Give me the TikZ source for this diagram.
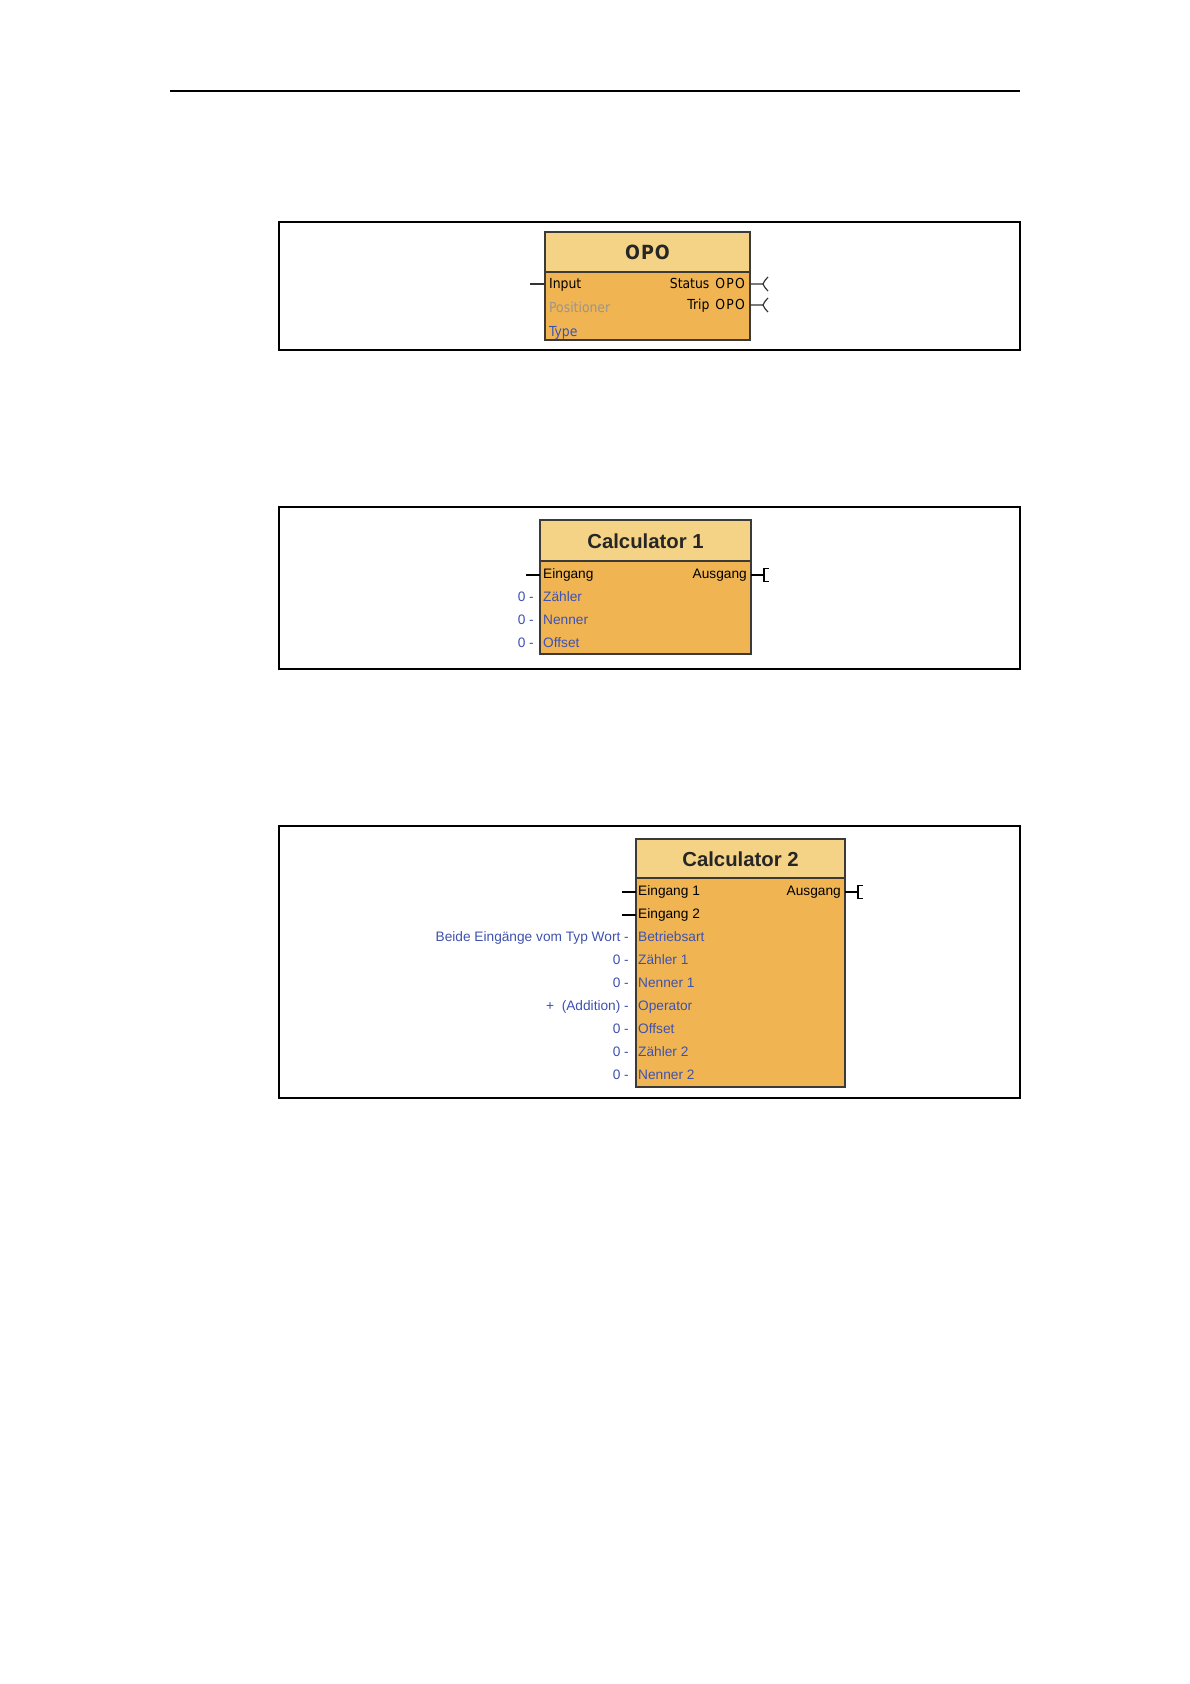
\documentclass[tikz,border=0pt]{standalone}
\usepackage{fontspec}
\setmainfont{Liberation Sans}
\newfontfamily\opofont{DejaVu Sans Condensed}
\usetikzlibrary{positioning}
\definecolor{hdr}{HTML}{F4D386}
\definecolor{bdy}{HTML}{F0B552}
\definecolor{edge}{HTML}{3C3A36}
\definecolor{lblue}{HTML}{3E52B0}
\definecolor{lgray}{HTML}{9A958C}
\newcommand{\opoword}{O\kern1.2pt P\kern1.2pt O}
\tikzset{
  frame/.style={draw=black, line width=1.3pt},
  hbox/.style={draw=edge, line width=1.2pt, fill=hdr, inner sep=0pt},
  bbox/.style={draw=edge, line width=1.2pt, fill=bdy, inner sep=0pt},
  ttl/.style={font=\fontsize{20.3}{23}\selectfont\bfseries, text=black!85},
  opottl/.style={font=\opofont\fontsize{19.5}{22}\selectfont\bfseries, text=black!85},
  row/.style={font=\fontsize{13.7}{16}\selectfont, inner sep=0pt, anchor=base west},
  rrow/.style={font=\fontsize{13.7}{16}\selectfont, inner sep=0pt, anchor=base east},
  oporow/.style={font=\opofont\fontsize{13.8}{16}\selectfont, inner sep=0pt, anchor=base west},
  oporrow/.style={font=\opofont\fontsize{13.8}{16}\selectfont, inner sep=0pt, anchor=base east},
  stub/.style={draw=black, line width=1.8pt},
  pin/.style={draw=black!80, line width=1.2pt},
}
\begin{document}
\begin{tikzpicture}[x=1pt,y=-1pt]
\useasboundingbox[fill=white] (0,0) rectangle (1190,1684);
% top rule
\draw[line width=2.2pt] (170,91) -- (1020,91);

% ---------- frame 1: OPO ----------
\draw[frame] (279,222) rectangle (1020,350);
\node[hbox, minimum width=205pt, minimum height=40pt] (opoh) at (647.5,252) {};
\node[bbox, minimum width=205pt, minimum height=68pt] (opob) at (647.5,306) {};
\node[opottl] (opot) at (opoh.center) {O\kern1pt P\kern1pt O};
\node[oporow] (opoin) at (549,288) {Input};
\node[oporow, text=lgray] (opopos) at (549,312) {Positioner};
\node[oporow, text=lblue] (opotyp) at (549,336) {Type};
\node[oporrow] (opost) at (745,288) {Status\kern2pt\ \opoword};
\node[oporrow] (opotr) at (745,309) {Trip\kern2pt\ \opoword};
\coordinate (opoinL) at (530,284);
\coordinate (opoinR) at (545,284);
\draw[pin] (opoinL) -- (opoinR);
\coordinate (opoo1) at (750,284);
\coordinate (opoo1e) at (763,284);
\coordinate (opoo2) at (750,305);
\coordinate (opoo2e) at (763,305);
\draw[pin] (opoo1) -- (opoo1e) .. controls (765,280) and (766,279) .. (768,277);
\draw[pin] (opoo1e) .. controls (765,288) and (766,289) .. (768,291);
\draw[pin] (opoo2) -- (opoo2e) .. controls (765,301) and (766,300) .. (768,298);
\draw[pin] (opoo2e) .. controls (765,309) and (766,310) .. (768,312);

% ---------- frame 2: Calculator 1 ----------
\draw[frame] (279,507) rectangle (1020,669);
\node[hbox, minimum width=211pt, minimum height=41pt] (c1h) at (645.5,540.5) {};
\node[bbox, minimum width=211pt, minimum height=93pt] (c1b) at (645.5,607.5) {};
\node[ttl] (c1t) at (645.5,541) {Calculator 1};
\node[row] (c1e) at (543,578.5) {Eingang};
\node[row, text=lblue] (c1z) at (543,601) {Zähler};
\node[row, text=lblue] (c1n) at (543,624) {Nenner};
\node[row, text=lblue] (c1o) at (543,647) {Offset};
\node[rrow, text=lblue] (c1zv) at (534,601) {0 -};
\node[rrow, text=lblue] (c1nv) at (534,624) {0 -};
\node[rrow, text=lblue] (c1ov) at (534,647) {0 -};
\node[rrow] (c1a) at (747,578.5) {Ausgang};
\coordinate (c1inL) at (526,575);
\coordinate (c1inR) at (540,575);
\draw[stub] (c1inL) -- (c1inR);
\coordinate (c1o1) at (751,575);
\coordinate (c1o1e) at (764,575);
\draw[stub] (c1o1) -- (c1o1e);
\draw[stub] (769,568.5) -- (764,568.5) -- (764,581.5) -- (769,581.5);

% ---------- frame 3: Calculator 2 ----------
\draw[frame] (279,826) rectangle (1020,1098);
\node[hbox, minimum width=209pt, minimum height=39pt] (c2h) at (740.5,858.5) {};
\node[bbox, minimum width=209pt, minimum height=209pt] (c2b) at (740.5,982.5) {};
\node[ttl] (c2t) at (740.5,859) {Calculator 2};
\node[row] (c2e1) at (638,895.5) {Eingang 1};
\node[row] (c2e2) at (638,918.5) {Eingang 2};
\node[row, text=lblue] (c2be) at (638,941.5) {Betriebsart};
\node[row, text=lblue] (c2z1) at (638,964.5) {Zähler 1};
\node[row, text=lblue] (c2n1) at (638,987.5) {Nenner 1};
\node[row, text=lblue] (c2op) at (638,1010.5) {Operator};
\node[row, text=lblue] (c2of) at (638,1033.5) {Offset};
\node[row, text=lblue] (c2z2) at (638,1056.5) {Zähler 2};
\node[row, text=lblue] (c2n2) at (638,1079.5) {Nenner 2};
\node[rrow, text=lblue] (c2bev) at (629,941.5) {Beide Eingänge vom Typ Wort -};
\node[rrow, text=lblue] (c2z1v) at (629,964.5) {0 -};
\node[rrow, text=lblue] (c2n1v) at (629,987.5) {0 -};
\node[rrow, text=lblue] (c2opv) at (629,1010.5) {+\ \ (Addition) -};
\node[rrow, text=lblue] (c2ofv) at (629,1033.5) {0 -};
\node[rrow, text=lblue] (c2z2v) at (629,1056.5) {0 -};
\node[rrow, text=lblue] (c2n2v) at (629,1079.5) {0 -};
\node[rrow] (c2a) at (841,895.5) {Ausgang};
\coordinate (c2in1L) at (622,892);
\coordinate (c2in1R) at (636,892);
\coordinate (c2in2L) at (622,915);
\coordinate (c2in2R) at (636,915);
\draw[stub] (c2in1L) -- (c2in1R);
\draw[stub] (c2in2L) -- (c2in2R);
\coordinate (c2o1) at (845,892);
\coordinate (c2o1e) at (858,892);
\draw[stub] (c2o1) -- (c2o1e);
\draw[stub] (863,885.5) -- (858,885.5) -- (858,898.5) -- (863,898.5);
\end{tikzpicture}
\end{document}
